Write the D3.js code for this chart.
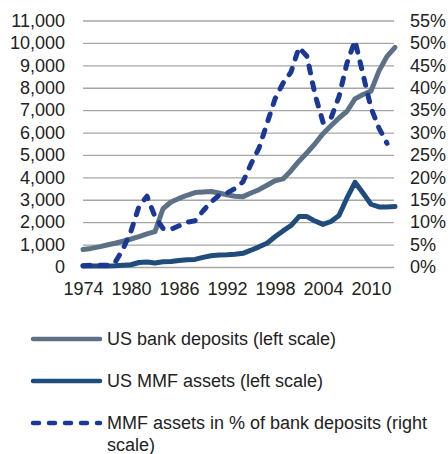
<!DOCTYPE html>
<html>
<head>
<meta charset="utf-8">
<script src="https://cdn.jsdelivr.net/npm/d3@7"></script>
<style>
  html, body { margin: 0; padding: 0; background: #fff; }
  text { font-family: "Liberation Sans", Arial, sans-serif; fill: #222; }
</style>
</head>
<body>
<div id="chart"></div>
<script>
// Years on the category axis
const years = d3.range(1974, 2014);
const yearTicks = [1974, 1980, 1986, 1992, 1998, 2004, 2010];

// US bank deposits, USD bn (left scale)
const bankDeposits = [780, 830, 900, 980, 1060, 1150, 1250, 1360, 1480, 1580,
    2600, 2900, 3060, 3200, 3320, 3350, 3370, 3300, 3220, 3160,
    3140, 3300, 3450, 3650, 3850, 3930, 4300, 4720, 5100, 5500,
    5950, 6300, 6650, 6950, 7500, 7700, 7850, 8750, 9400, 9800];

// US MMF assets, USD bn (left scale)
const mmfAssets = [50, 50, 50, 50, 55, 80, 100, 200, 220, 180,
    230, 250, 290, 320, 340, 430, 500, 540, 550, 570,
    610, 750, 900, 1060, 1350, 1610, 1850, 2250, 2250, 2050,
    1900, 2030, 2300, 3080, 3780, 3300, 2800, 2680, 2680, 2700];

// MMF assets in % of bank deposits (right scale), last year not shown
const mmfShare = [0.3, 0.4, 0.4, 0.4, 1.0, 4.0, 8.0, 13.5, 15.8, 11.2,
    8.6, 8.4, 9.2, 10.0, 10.3, 12.5, 14.5, 16.0, 16.5, 17.5,
    19.0, 23.0, 26.5, 32.0, 37.5, 41.0, 43.5, 49.0, 47.0, 38.5,
    32.3, 33.2, 38.0, 45.5, 50.5, 43.0, 35.5, 31.0, 27.6, null];

const leftTicks = d3.range(0, 11001, 1000);
const rightTicks = d3.range(0, 0.5501, 0.05);

const series = [
    { name: 'US bank deposits (left scale)', values: bankDeposits, color: '#5d7186', dash: null, axis: 'left' },
    { name: 'US MMF assets (left scale)', values: mmfAssets, color: '#1f4c7c', dash: null, axis: 'left' },
    { name: ['MMF assets in % of bank deposits (right', 'scale)'], values: mmfShare, color: '#1b3896', dash: '7,10', axis: 'right' }
];

const width = 448;
const height = 454;
const plot = { left: 83, right: 395, top: 20.5, bottom: 267 };

const svg = d3.select('#chart').append('svg')
    .attr('width', width)
    .attr('height', height);

const x = d3.scaleLinear()
    .domain([1974, 2013])
    .range([plot.left, plot.right]);

const yLeft = d3.scaleLinear()
    .domain([0, 11000])
    .range([plot.bottom, plot.top]);

const yRight = d3.scaleLinear()
    .domain([0, 0.55])
    .range([plot.bottom, plot.top]);

// Gridlines
svg.append('g')
    .attr('transform', `translate(${plot.left},0)`)
    .call(d3.axisLeft(yLeft).tickValues(leftTicks).tickSize(-(plot.right - plot.left - 1)).tickFormat(''))
    .call(g => g.select('.domain').remove())
    .call(g => g.selectAll('line').attr('stroke', '#a6a6a6').attr('stroke-width', 1.3));

// Left axis
svg.append('g')
    .attr('transform', `translate(${plot.left},0)`)
    .call(d3.axisLeft(yLeft).tickValues(leftTicks).tickSize(0).tickPadding(18).tickFormat(d3.format(',')))
    .call(g => g.select('.domain').remove())
    .call(g => g.selectAll('text').attr('font-size', 18).attr('font-family', null).attr('fill', '#222'));

// Right axis
svg.append('g')
    .attr('transform', `translate(${plot.right},0)`)
    .call(d3.axisRight(yRight).tickValues(rightTicks).tickSize(0).tickPadding(15).tickFormat(d3.format('.0%')))
    .call(g => g.select('.domain').remove())
    .call(g => g.selectAll('text').attr('font-size', 18).attr('font-family', null).attr('fill', '#222'));

// Bottom axis
svg.append('g')
    .attr('transform', `translate(0,${plot.bottom})`)
    .call(d3.axisBottom(x).tickValues(yearTicks).tickSize(0).tickPadding(15).tickFormat(d3.format('d')))
    .call(g => g.select('.domain').remove())
    .call(g => g.selectAll('text').attr('font-size', 18).attr('font-family', null).attr('fill', '#222'));

// Lines
series.forEach(s => {
    const yScale = s.axis === 'left' ? yLeft : (v => yRight(v / 100));
    const line = d3.line()
        .defined(d => d != null)
        .x((d, i) => x(years[i]))
        .y(d => yScale(d));

    svg.append('path')
        .datum(s.values)
        .attr('d', line)
        .attr('fill', 'none')
        .attr('stroke', s.color)
        .attr('stroke-width', 5)
        .attr('stroke-linejoin', 'round')
        .attr('stroke-linecap', 'round')
        .attr('stroke-dasharray', s.dash);
});

// Legend
const legendY = [339, 381, 423];
const legend = svg.append('g');
series.forEach((s, i) => {
    const g = legend.append('g').attr('transform', `translate(0,${legendY[i]})`);
    g.append('line')
        .attr('x1', 33).attr('x2', 100)
        .attr('stroke', s.color)
        .attr('stroke-width', 4.5)
        .attr('stroke-linecap', 'round')
        .attr('stroke-dasharray', s.dash ? '6,10' : null);
    const t = g.append('text')
        .attr('x', 107)
        .attr('font-size', 18);
    const lines = Array.isArray(s.name) ? s.name : [s.name];
    lines.forEach((l, j) => {
        t.append('tspan')
            .attr('x', 107)
            .attr('dy', j === 0 ? '0.35em' : 22)
            .text(l);
    });
});
</script>
</body>
</html>
